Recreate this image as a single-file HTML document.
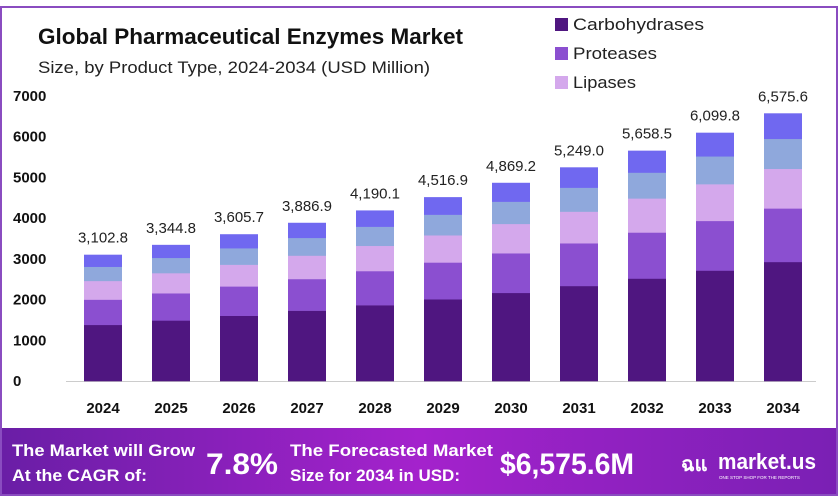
<!DOCTYPE html>
<html><head><meta charset="utf-8"><style>
body{margin:0;width:840px;height:502px;background:#fff;overflow:hidden;font-family:"Liberation Sans",sans-serif}
</style></head><body>
<svg id="s" width="840" height="502" xmlns="http://www.w3.org/2000/svg" style="position:absolute;left:0;top:0">
<defs><linearGradient id="g" x1="0" x2="1" y1="0" y2="0">
<stop offset="0" stop-color="#6a1ea6"/><stop offset="0.5" stop-color="#a422cc"/><stop offset="1" stop-color="#7a20b4"/></linearGradient></defs>
<rect x="1" y="7" width="836" height="488" fill="none" stroke="#8a4cc0" stroke-width="2"/>
<text x="38" y="44" font-size="22" font-weight="bold" fill="#111" textLength="425" lengthAdjust="spacingAndGlyphs">Global Pharmaceutical Enzymes Market</text>
<text x="38" y="73" font-size="17" fill="#222" textLength="392" lengthAdjust="spacingAndGlyphs">Size, by Product Type, 2024-2034 (USD Million)</text>
<rect x="555" y="18" width="13" height="13" fill="#4f1680"/><text x="573" y="30" font-size="17" fill="#222" textLength="131" lengthAdjust="spacingAndGlyphs">Carbohydrases</text>
<rect x="555" y="47" width="13" height="13" fill="#8b4fd0"/><text x="573" y="59" font-size="17" fill="#222" textLength="84" lengthAdjust="spacingAndGlyphs">Proteases</text>
<rect x="555" y="76" width="13" height="13" fill="#d4a8ec"/><text x="573" y="88" font-size="17" fill="#222" textLength="63" lengthAdjust="spacingAndGlyphs">Lipases</text>
<line x1="66" y1="381.5" x2="816" y2="381.5" stroke="#ccc" stroke-width="1"/>
<g id="b"></g>
<rect x="2" y="428" width="834" height="66" fill="url(#g)"/>
<text x="12" y="456" font-size="17" font-weight="bold" fill="#fff" textLength="183" lengthAdjust="spacingAndGlyphs">The Market will Grow</text>
<text x="12" y="481" font-size="17" font-weight="bold" fill="#fff" textLength="135" lengthAdjust="spacingAndGlyphs">At the CAGR of:</text>
<text x="206" y="474" font-size="30" font-weight="bold" fill="#fff" textLength="72" lengthAdjust="spacingAndGlyphs">7.8%</text>
<text x="290" y="456" font-size="17" font-weight="bold" fill="#fff" textLength="203" lengthAdjust="spacingAndGlyphs">The Forecasted Market</text>
<text x="290" y="481" font-size="17" font-weight="bold" fill="#fff" textLength="170" lengthAdjust="spacingAndGlyphs">Size for 2034 in USD:</text>
<text x="500" y="474" font-size="30" font-weight="bold" fill="#fff" textLength="134" lengthAdjust="spacingAndGlyphs">$6,575.6M</text>
<text x="681" y="471" font-size="20" font-weight="bold" fill="#fff">ฉแ</text>
<text x="718" y="469" font-size="22" font-weight="bold" fill="#fff" textLength="98" lengthAdjust="spacingAndGlyphs">market.us</text>
<text x="719" y="479" font-size="4.5" fill="#fff">ONE STOP SHOP FOR THE REPORTS</text>
</svg>
<script>
var v=[3102.8,3344.8,3605.7,3886.9,4190.1,4516.9,4869.2,5249.0,5658.5,6099.8,6575.6];
var fr=[0.445,0.2,0.148,0.112,0.095],col=["#4f1680","#8b4fd0","#d4a8ec","#8fa8dc","#7068f0"];
var h='',k=0.04071,base=381;
for(var t=0;t<=7;t++){h+='<text x="13" y="'+(base-t*1000*k+5)+'" font-size="15" font-weight="bold" fill="#111">'+(t*1000)+'</text>';}
v.forEach(function(x,i){var cx=103+68*i,H=x*k,y=base;
for(var j=0;j<5;j++){var sh=H*fr[j];h+='<rect x="'+(cx-19)+'" y="'+(y-sh)+'" width="38" height="'+(sh+0.3)+'" fill="'+col[j]+'"/>';y-=sh;}
h+='<text x="'+cx+'" y="'+(base-H-12)+'" font-size="15" text-anchor="middle" fill="#222">'+x.toLocaleString('en-US',{minimumFractionDigits:1})+'</text>';
h+='<text x="'+cx+'" y="413" font-size="15" font-weight="bold" text-anchor="middle" fill="#111">'+(2024+i)+'</text>';});
document.getElementById('b').innerHTML=h;
</script>
</body></html>
